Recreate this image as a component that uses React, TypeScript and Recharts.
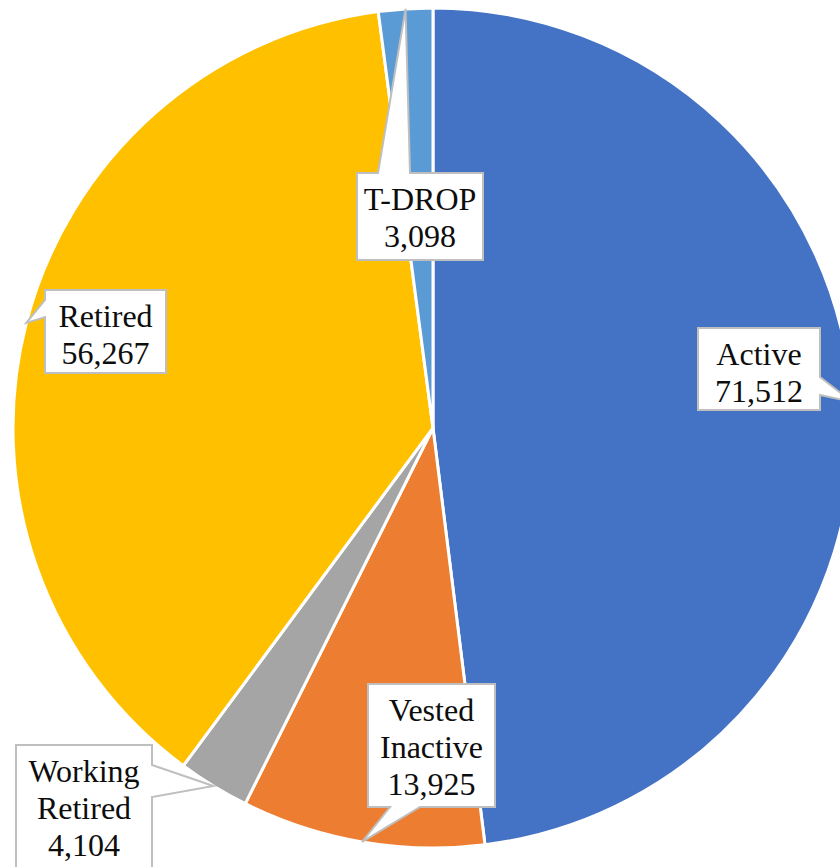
import { PieChart, Pie, Cell } from 'recharts'

const categories = ['Active', 'Vested Inactive', 'Working Retired', 'Retired', 'T-DROP']
const members = [71512, 13925, 4104, 56267, 3098]
const sliceColors = ['#4472C4', '#ED7D31', '#A5A5A5', '#FFC000', '#5B9BD5']

// callout boxes, placed relative to the pie centre (dx, dy = top-left corner)
const callouts = [
  { dx: 265, dy: -100, w: 122, h: 82, side: 'right', a: 49, b: 67 },
  { dx: -65, dy: 256, w: 127, h: 123, side: 'bottom', a: 22, b: 52 },
  { dx: -417, dy: 317, w: 136, h: 126, side: 'right', a: 20, b: 52 },
  { dx: -388, dy: -138, w: 121, h: 83, side: 'left', a: 10, b: 27 },
  { dx: -76, dy: -255, w: 126, h: 87, side: 'top', a: 21, b: 53 },
]

const data = categories.map((name, i) => ({ name, value: members[i] }))

const RADIAN = Math.PI / 180

function calloutPath(
  x: number,
  y: number,
  w: number,
  h: number,
  side: string,
  a: number,
  b: number,
  tx: number,
  ty: number,
): string {
  const p: string[] = [`M${x},${y}`]
  if (side === 'top') p.push(`L${x + a},${y}`, `L${tx},${ty}`, `L${x + b},${y}`)
  p.push(`L${x + w},${y}`)
  if (side === 'right') p.push(`L${x + w},${y + a}`, `L${tx},${ty}`, `L${x + w},${y + b}`)
  p.push(`L${x + w},${y + h}`)
  if (side === 'bottom') p.push(`L${x + b},${y + h}`, `L${tx},${ty}`, `L${x + a},${y + h}`)
  p.push(`L${x},${y + h}`)
  if (side === 'left') p.push(`L${x},${y + b}`, `L${tx},${ty}`, `L${x},${y + a}`)
  p.push('Z')
  return p.join(' ')
}

function CalloutLabel(props: any) {
  const { cx, cy, midAngle, outerRadius, index } = props
  const c = callouts[index]
  const tx = cx + outerRadius * Math.cos(-midAngle * RADIAN)
  const ty = cy + outerRadius * Math.sin(-midAngle * RADIAN)
  const x = cx + c.dx
  const y = cy + c.dy
  const lines = [...categories[index].split(' '), members[index].toLocaleString('en-US')]
  return (
    <g>
      <path
        d={calloutPath(x, y, c.w, c.h, c.side, c.a, c.b, tx, ty)}
        fill="#ffffff"
        stroke="#BFBFBF"
        strokeWidth={2}
        strokeLinejoin="miter"
      />
      {lines.map((t, i) => (
        <text
          key={i}
          x={x + c.w / 2}
          y={y + 37 + i * 37}
          textAnchor="middle"
          fill="#0d0d0d"
          fontSize={32}
          fontFamily="'Liberation Serif', serif"
        >
          {t}
        </text>
      ))}
    </g>
  )
}

export default function App() {
  return (
    <div style={{ position: 'absolute', left: 0, top: 0, width: 840, height: 867, background: '#fff' }}>
      <PieChart width={840} height={867} margin={{ top: 0, right: 0, bottom: 0, left: 0 }}>
        <Pie
          data={data}
          dataKey="value"
          nameKey="name"
          cx={433}
          cy={428}
          outerRadius={420}
          startAngle={90}
          endAngle={-270}
          stroke="#ffffff"
          strokeWidth={3}
          labelLine={false}
          label={CalloutLabel}
          isAnimationActive={false}
        >
          {data.map((d, i) => (
            <Cell key={d.name} fill={sliceColors[i]} />
          ))}
        </Pie>
      </PieChart>
    </div>
  )
}
